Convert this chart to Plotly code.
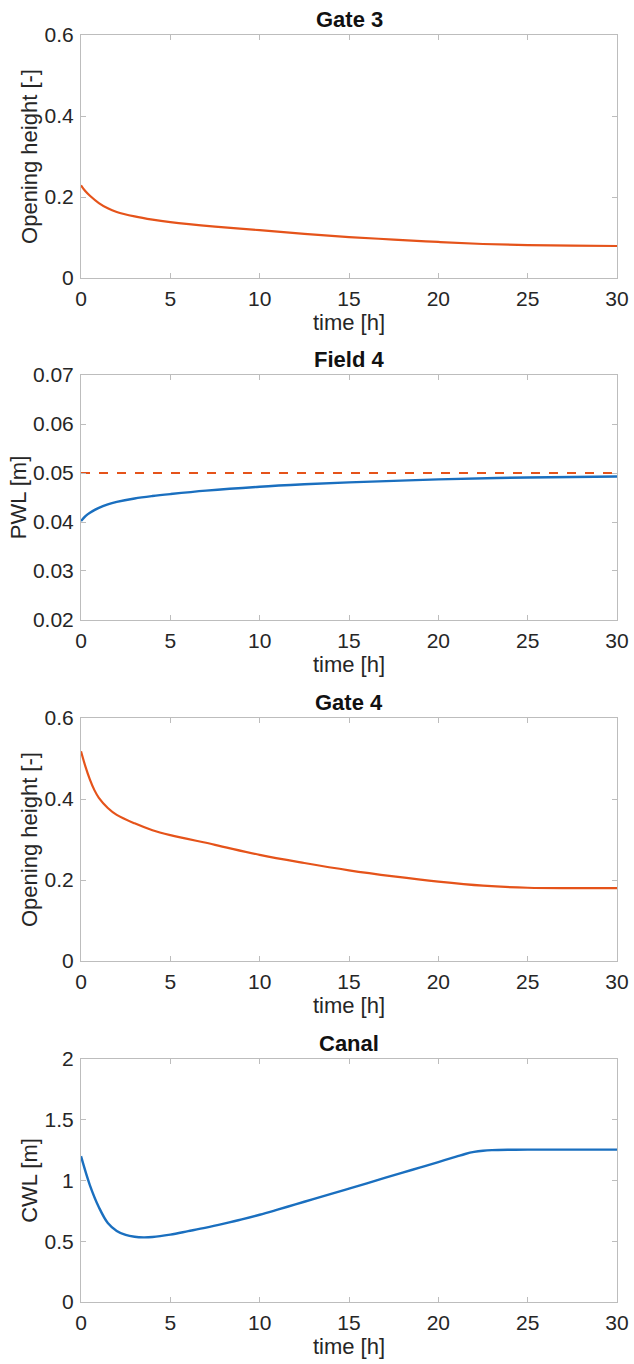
import plotly.graph_objects as go

# ---- data ----
t_gate3 = [0, 0.25, 0.5, 1, 1.5, 2, 3, 4, 5, 7.5, 10, 12.5, 15, 17.5, 20, 22.5, 25, 27.5, 30]
gate3 = [0.229, 0.214, 0.203, 0.185, 0.172, 0.163, 0.152, 0.144, 0.138, 0.127, 0.118, 0.109, 0.101, 0.095, 0.089, 0.084, 0.081, 0.080, 0.079]

t_field4 = [0, 0.25, 0.5, 1, 1.5, 2, 3, 4, 5, 7, 10, 12.5, 15, 17.5, 20, 25, 30]
pwl = [0.0402, 0.0412, 0.0419, 0.0429, 0.0436, 0.0441, 0.0448, 0.0453, 0.0457, 0.0464, 0.0472, 0.0477, 0.0481, 0.0484, 0.0487, 0.0491, 0.0493]
t_target = [0, 30]
pwl_target = [0.05, 0.05]

t_gate4 = [0, 0.25, 0.5, 0.75, 1, 1.5, 2, 3, 4, 5, 7.5, 10, 12.5, 15, 17.5, 20, 22.5, 25, 27.5, 30]
gate4 = [0.518, 0.480, 0.448, 0.422, 0.403, 0.378, 0.361, 0.340, 0.323, 0.311, 0.287, 0.262, 0.242, 0.224, 0.209, 0.196, 0.186, 0.181, 0.180, 0.180]

t_canal = [0, 0.5, 1, 1.5, 2, 2.5, 3, 3.5, 4, 5, 6, 7, 8, 9, 10, 11, 12, 13, 14, 15, 16, 17, 18, 19, 20, 21, 21.5, 22, 22.5, 23, 24, 25, 30]
cwl = [1.200, 0.960, 0.780, 0.650, 0.585, 0.552, 0.537, 0.532, 0.535, 0.555, 0.583, 0.612, 0.645, 0.680, 0.718, 0.760, 0.803, 0.847, 0.890, 0.933, 0.977, 1.021, 1.065, 1.108, 1.152, 1.196, 1.218, 1.235, 1.245, 1.250, 1.253, 1.254, 1.254]

titles = ["Gate 3", "Field 4", "Gate 4", "Canal"]
ytitles = ["Opening height [-]", "PWL [m]", "Opening height [-]", "CWL [m]"]
xticks = [0, 5, 10, 15, 20, 25, 30]

ORANGE = "#E5531A"
BLUE = "#1A6FBF"
FONT = "Liberation Sans, Arial, Helvetica, sans-serif"
TXT = "#262626"

fig = go.Figure()
fig.add_trace(go.Scatter(x=t_gate3, y=gate3, mode="lines", line=dict(color=ORANGE, width=2.2, shape="spline"),
                         xaxis="x", yaxis="y"))
fig.add_trace(go.Scatter(x=t_target, y=pwl_target, mode="lines", line=dict(color=ORANGE, width=2.2, dash="dash"),
                         xaxis="x2", yaxis="y2"))
fig.add_trace(go.Scatter(x=t_field4, y=pwl, mode="lines", line=dict(color=BLUE, width=2.4, shape="spline"),
                         xaxis="x2", yaxis="y2"))
fig.add_trace(go.Scatter(x=t_gate4, y=gate4, mode="lines", line=dict(color=ORANGE, width=2.2, shape="spline"),
                         xaxis="x3", yaxis="y3"))
fig.add_trace(go.Scatter(x=t_canal, y=cwl, mode="lines", line=dict(color=BLUE, width=2.4, shape="spline"),
                         xaxis="x4", yaxis="y4"))

domains = [[0.8082, 1.0], [0.5383, 0.7316], [0.2691, 0.4609], [0.0, 0.1918]]
yranges = [[0, 0.6], [0.02, 0.07], [0, 0.6], [0, 2]]
ytickvals = [[0, 0.2, 0.4, 0.6], [0.02, 0.03, 0.04, 0.05, 0.06, 0.07], [0, 0.2, 0.4, 0.6], [0, 0.5, 1, 1.5, 2]]
yticktext = [["0", "0.2", "0.4", "0.6"], ["0.02", "0.03", "0.04", "0.05", "0.06", "0.07"],
             ["0", "0.2", "0.4", "0.6"], ["0", "0.5", "1", "1.5", "2"]]

axis_common = dict(showline=True, linecolor="#BDBDBD", linewidth=1, mirror="ticks",
                   ticks="inside", ticklen=5, tickcolor="#BDBDBD", showgrid=False, zeroline=False,
                   automargin=False, tickfont=dict(family=FONT, size=21, color=TXT))

layout = dict(width=634, height=1364, showlegend=False,
              margin=dict(l=81, r=17, t=35, b=62),
              paper_bgcolor="white", plot_bgcolor="white",
              font=dict(family=FONT, size=21, color=TXT))

annotations = []
for i in range(4):
    sx = "" if i == 0 else str(i + 1)
    layout["xaxis" + sx] = dict(axis_common, domain=[0, 1], anchor="y" + sx, range=[0, 30],
                                tickvals=xticks, ticklabelstandoff=2,
                                title=dict(text="time [h]", standoff=0, font=dict(family=FONT, size=22, color=TXT)))
    layout["yaxis" + sx] = dict(axis_common, domain=domains[i], anchor="x" + sx, range=yranges[i],
                                tickvals=ytickvals[i], ticktext=yticktext[i], ticklabelstandoff=2,
                                title=dict(text=ytitles[i], standoff=0, font=dict(family=FONT, size=22, color=TXT)))
    annotations.append(dict(text="<b>" + titles[i] + "</b>", x=0.5, y=domains[i][1], xref="paper", yref="paper",
                            xanchor="center", yanchor="bottom", yshift=1, showarrow=False,
                            font=dict(family=FONT, size=22, color="#111111")))
layout["annotations"] = annotations

fig.update_layout(**layout)
fig.write_html("out.html")
